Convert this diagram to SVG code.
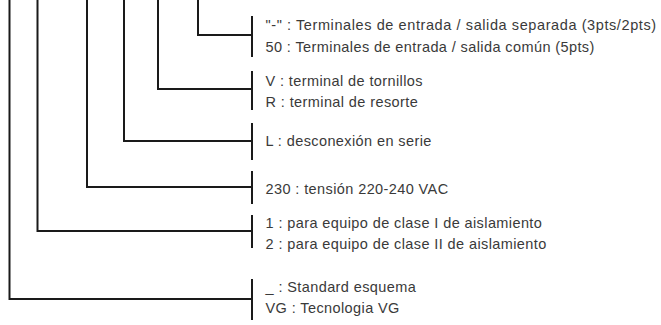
<svg xmlns="http://www.w3.org/2000/svg" width="661" height="325" viewBox="0 0 661 325">
<style>
.c{fill:none;stroke:#1a1a1a;stroke-width:2}
.t{font-family:"Liberation Sans",Arial,sans-serif;font-size:14.5px;letter-spacing:0.4px;fill:#3a3a3a}
</style>
<rect width="661" height="325" fill="#fff"/>
<g id="connectors">
<polyline class="c" points="198,0 198,35 251,35"/>
<polyline class="c" points="158,0 158,89 251,89"/>
<polyline class="c" points="124,0 124,141 251,141"/>
<polyline class="c" points="87,0 87,187 251,187"/>
<polyline class="c" points="37.5,0 37.5,231 251,231"/>
<polyline class="c" points="9.5,0 9.5,299 251,299"/>
</g>
<g id="n1">
<line class="c" x1="252" y1="16" x2="252" y2="57"/>
<text class="t" x="265.5" y="30" textLength="391" lengthAdjust="spacing">"-" : Terminales de entrada / salida separada (3pts/2pts)</text>
<text class="t" x="265.5" y="52">50 : Terminales de entrada / salida común (5pts)</text>
</g>
<g id="n2">
<line class="c" x1="252" y1="71" x2="252" y2="110"/>
<text class="t" x="265.5" y="86">V : terminal de tornillos</text>
<text class="t" x="265.5" y="107">R : terminal de resorte</text>
</g>
<g id="n3">
<line class="c" x1="252" y1="123" x2="252" y2="160"/>
<text class="t" x="265.5" y="146">L : desconexión en serie</text>
</g>
<g id="n4">
<line class="c" x1="252" y1="171" x2="252" y2="204"/>
<text class="t" x="265.5" y="194">230 : tensión 220-240 VAC</text>
</g>
<g id="n5">
<line class="c" x1="252" y1="215" x2="252" y2="248"/>
<text class="t" x="265.5" y="228">1 : para equipo de clase I de aislamiento</text>
<text class="t" x="265.5" y="249">2 : para equipo de clase II de aislamiento</text>
</g>
<g id="n6">
<line class="c" x1="252" y1="279" x2="252" y2="320"/>
<text class="t" x="265.5" y="292">_ : Standard esquema</text>
<text class="t" x="265.5" y="313">VG : Tecnologia VG</text>
</g>
</svg>
